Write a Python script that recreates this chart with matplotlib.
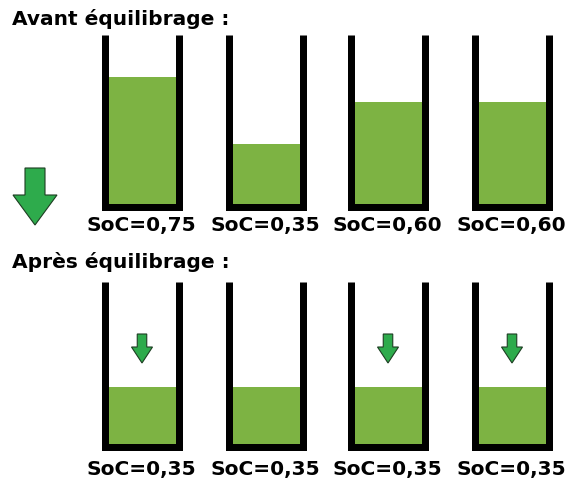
import matplotlib.pyplot as plt
from matplotlib.patches import Polygon

# SoC of the four cells, before and after balancing
soc_avant = [0.75, 0.35, 0.60, 0.60]
soc_apres = [0.35, 0.35, 0.35, 0.35]
titres = ["Avant équilibrage :", "Après équilibrage :"]

centres = [141.5, 265.5, 387.5, 511.5]
largeur = 74      # distance between wall centres (px)
ep = 7            # wall thickness (px)
vert = '#7db343'
vert_fleche = '#2eab4c'


def fleche(ax, xc, y0, y1, w_tige, w_tete, y_epaule):
    pts = [(xc - w_tige / 2, y0), (xc + w_tige / 2, y0), (xc + w_tige / 2, y_epaule),
           (xc + w_tete / 2, y_epaule), (xc, y1), (xc - w_tete / 2, y_epaule),
           (xc - w_tige / 2, y_epaule)]
    ax.add_patch(Polygon(pts, closed=True, facecolor=vert_fleche,
                         edgecolor='#1d3d22', linewidth=0.8, zorder=4))


def rangee(ax, socs, y_haut, y_fond, y_label):
    h_int = y_fond - y_haut
    # liquid level (drawn down under the bottom wall to avoid a gap)
    ax.bar(centres, [-(s * h_int + ep / 2) for s in socs], bottom=y_fond + ep / 2,
           width=largeur, color=vert, zorder=2)
    # container walls
    for xc, s in zip(centres, socs):
        xl, xr = xc - largeur / 2, xc + largeur / 2
        yb = y_fond + ep / 2
        ax.plot([xl, xl, xr, xr], [y_haut, yb, yb, y_haut], color='black',
                lw=ep * 72 / 100, solid_joinstyle='miter', solid_capstyle='butt',
                zorder=3)
        ax.text(xc, y_label, "SoC=" + f"{s:.2f}".replace('.', ','),
                ha='center', va='center', fontsize=14.5, fontweight='bold')


fig = plt.figure(figsize=(5.7, 4.88), dpi=100)
ax = fig.add_axes([0, 0, 1, 1])
ax.set_xlim(0, 570)
ax.set_ylim(488, 0)
ax.axis('off')

ax.text(12, 19, titres[0], ha='left', va='center', fontsize=14.5, fontweight='bold')
ax.text(12, 262, titres[1], ha='left', va='center', fontsize=14.5, fontweight='bold')

rangee(ax, soc_avant, 35, 203, 225)
rangee(ax, soc_apres, 282, 443, 470)

# big arrow between the two states
fleche(ax, 35, 168, 225, 20, 44, 195)

# small arrows in the cells whose level went down
for xc, a, b in zip(centres, soc_avant, soc_apres):
    if b < a:
        fleche(ax, xc + 0.5, 334, 363, 9.5, 21, 347)

fig.savefig('out.png', dpi=100)
